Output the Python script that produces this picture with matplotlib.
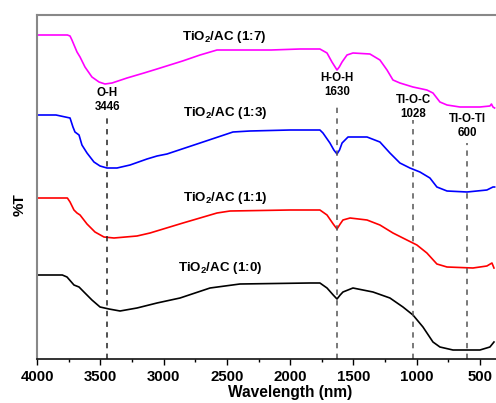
import matplotlib
matplotlib.use("Agg")
import matplotlib.pyplot as plt
from matplotlib.ticker import MultipleLocator

plt.rcParams['font.family'] = ['Liberation Sans', 'DejaVu Sans']
plt.rcParams['mathtext.fontset'] = 'custom'
plt.rcParams['mathtext.rm'] = 'Liberation Sans:bold'
plt.rcParams['mathtext.bf'] = 'Liberation Sans:bold'

# ---- data (wavenumber, transmittance in arbitrary offset units) ----
wn_17 = [4000, 3760, 3739, 3724, 3684, 3660, 3621, 3566, 3510, 3463, 3407, 3289, 3155, 3052,
         2850, 2712, 2578, 2397, 2150, 1923, 1765, 1709, 1670, 1645, 1630, 1612, 1590, 1551,
         1504, 1370, 1291, 1235, 1188, 1133, 1030, 920, 872, 817, 761, 659, 501, 422, 410,
         398, 385]
t_17 = [324, 324, 323, 319, 307, 302, 292, 282, 277, 275, 276, 281, 286, 290,
        298, 304, 309, 309, 309, 310, 310, 306, 297, 292, 289, 292, 297, 304,
        306, 305, 299, 289, 279, 276, 272, 269, 266, 257, 254, 252, 252, 253, 255,
        252, 251]

wn_13 = [4000, 3850, 3739, 3716, 3700, 3668, 3645, 3605, 3550, 3502, 3447, 3368, 3265, 3131,
         3052, 2973, 2712, 2452, 2318, 2000, 1765, 1741, 1686, 1655, 1630, 1610, 1590, 1543,
         1393, 1291, 1212, 1133, 1054, 975, 896, 841, 761, 603, 446, 398, 385]
t_13 = [244, 244, 241, 232, 227, 224, 214, 206, 197, 193, 191, 191, 194, 200,
        203, 205, 216, 227, 228, 229, 229, 226, 216, 209, 205, 209, 216, 222,
        222, 217, 206, 196, 191, 187, 181, 172, 168, 167, 169, 172, 172]

wn_11 = [4000, 3760, 3739, 3708, 3684, 3660, 3605, 3542, 3471, 3392, 3210, 3107, 2847, 2578,
         2475, 2000, 1765, 1709, 1660, 1630, 1605, 1583, 1527, 1393, 1291, 1188, 1078, 999,
         920, 841, 761, 556, 446, 406, 390]
t_11 = [161, 161, 157, 149, 146, 144, 135, 127, 122, 121, 123, 126, 136, 146,
        148, 149, 149, 144, 135, 130, 135, 139, 141, 139, 134, 126, 119, 114,
        106, 95, 92, 91, 93, 96, 91]

wn_10 = [4000, 3800, 3763, 3708, 3668, 3629, 3566, 3502, 3431, 3344, 3210, 3052, 2870, 2633,
         2397, 1844, 1765, 1709, 1660, 1630, 1605, 1583, 1504, 1346, 1212, 1109, 1030, 951,
         872, 817, 714, 501, 422, 390]
t_10 = [84, 84, 82, 74, 72, 67, 59, 52, 50, 48, 51, 56, 61, 71,
        75, 76, 76, 71, 64, 60, 64, 67, 71, 67, 61, 52, 44, 32,
        17, 12, 9, 9, 12, 17]

series_labels = [r"TiO$_\mathbf{2}$/AC (1:7)", r"TiO$_\mathbf{2}$/AC (1:3)",
                 r"TiO$_\mathbf{2}$/AC (1:1)", r"TiO$_\mathbf{2}$/AC (1:0)"]
series_colors = ['#ff00ff', '#0000ff', '#ff0000', '#000000']

peak_pos = [3446, 1630, 1028, 600]
peak_names = ['O-H', 'H-O-H', 'TI-O-C', 'TI-O-TI']
peak_line_top = [242, 252, 239, 216]
peak_text_y = [259, 274, 252, 233]

# ---- figure ----
fig = plt.figure(figsize=(4.96, 4.03), dpi=100)
ax = fig.add_axes([37/496, 44/403, 1 - 37/496, (359-15)/403])

xs = [wn_17, wn_13, wn_11, wn_10]
ys = [t_17, t_13, t_11, t_10]
for x, y, c in zip(xs, ys, series_colors):
    ax.plot(x, y, color=c, lw=1.2, solid_joinstyle='round')

label_pos = [(2523, 322), (2515, 246), (2515, 161), (2554, 91)]
for (lx, ly), s in zip(label_pos, series_labels):
    ax.text(lx, ly, s, ha='center', va='center', fontsize=9.6, fontweight='bold')

for p, top, name, ty in zip(peak_pos, peak_line_top, peak_names, peak_text_y):
    col = '#222222' if p == 3446 else '#555555'
    ax.plot([p, p], [0, top], ls=(0, (3.5, 3.5)), color=col, lw=1.1)
    ax.text(p, ty, f"{name}\n{p}", ha='center', va='center', fontsize=8.3,
            fontweight='bold', linespacing=1.25)

ax.set_xlim(4000, 374)
ax.set_ylim(0, 344)
ax.xaxis.set_major_locator(MultipleLocator(500))
ax.xaxis.set_minor_locator(MultipleLocator(250))
ax.set_yticks([])
ax.tick_params(axis='x', which='major', direction='out', length=4, width=1, labelsize=10.8, pad=4)
ax.tick_params(axis='x', which='minor', direction='out', length=2.5, width=1)
for lab in ax.get_xticklabels():
    lab.set_fontweight('bold')

ax.spines['right'].set_visible(False)
ax.spines['left'].set_color('#888888')
ax.spines['top'].set_color('#888888')
ax.spines['left'].set_linewidth(1.5)
ax.spines['top'].set_linewidth(1.5)
ax.spines['bottom'].set_color('#111111')
ax.spines['bottom'].set_linewidth(1.2)

ax.set_xlabel('Wavelength (nm)', fontsize=11.2, fontweight='bold')
ax.xaxis.set_label_coords((290 - 37) / 459, -(393 - 359) / 344, transform=ax.transAxes)
ax.xaxis.label.set_va('center')
ax.set_ylabel('%T', fontsize=11, fontweight='bold')
ax.yaxis.set_label_coords(-(37 - 20) / 459, (359 - 205) / 344, transform=ax.transAxes)
ax.yaxis.label.set_va('center')

fig.savefig('out.png', dpi=100)
